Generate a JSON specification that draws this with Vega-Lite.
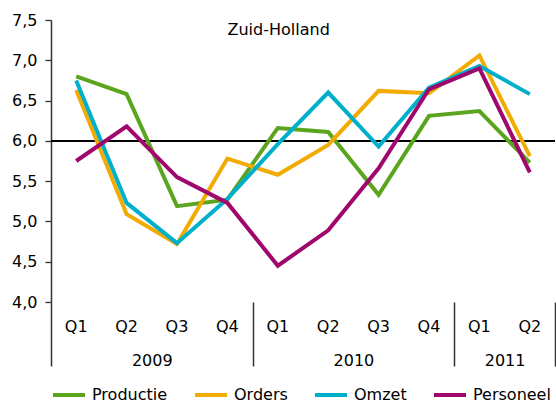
{
  "$schema": "https://vega.github.io/schema/vega-lite/v6.json",
  "width": 504,
  "height": 282,
  "autosize": {"type": "none"},
  "padding": {"left": 51, "top": 20, "right": 1, "bottom": 101},
  "background": "#ffffff",
  "config": {
    "view": {"stroke": null},
    "font": "DejaVu Sans",
    "axis": {"labelFont": "DejaVu Sans", "labelColor": "#000000", "labelFontSize": 16}
  },
  "title": {
    "text": "Zuid-Holland",
    "font": "DejaVu Sans",
    "fontSize": 16,
    "fontWeight": "normal",
    "color": "#000000",
    "anchor": "middle",
    "frame": "bounds",
    "offset": -26,
    "dx": -5
  },
  "data": {
    "values": [
      {"kwartaal": "2009 Q1", "reeks": "Productie", "waarde": 6.80},
      {"kwartaal": "2009 Q2", "reeks": "Productie", "waarde": 6.58},
      {"kwartaal": "2009 Q3", "reeks": "Productie", "waarde": 5.19},
      {"kwartaal": "2009 Q4", "reeks": "Productie", "waarde": 5.27},
      {"kwartaal": "2010 Q1", "reeks": "Productie", "waarde": 6.16},
      {"kwartaal": "2010 Q2", "reeks": "Productie", "waarde": 6.11},
      {"kwartaal": "2010 Q3", "reeks": "Productie", "waarde": 5.33},
      {"kwartaal": "2010 Q4", "reeks": "Productie", "waarde": 6.31},
      {"kwartaal": "2011 Q1", "reeks": "Productie", "waarde": 6.37},
      {"kwartaal": "2011 Q2", "reeks": "Productie", "waarde": 5.73},
      {"kwartaal": "2009 Q1", "reeks": "Orders", "waarde": 6.63},
      {"kwartaal": "2009 Q2", "reeks": "Orders", "waarde": 5.09},
      {"kwartaal": "2009 Q3", "reeks": "Orders", "waarde": 4.72},
      {"kwartaal": "2009 Q4", "reeks": "Orders", "waarde": 5.78},
      {"kwartaal": "2010 Q1", "reeks": "Orders", "waarde": 5.58},
      {"kwartaal": "2010 Q2", "reeks": "Orders", "waarde": 5.95},
      {"kwartaal": "2010 Q3", "reeks": "Orders", "waarde": 6.62},
      {"kwartaal": "2010 Q4", "reeks": "Orders", "waarde": 6.59},
      {"kwartaal": "2011 Q1", "reeks": "Orders", "waarde": 7.06},
      {"kwartaal": "2011 Q2", "reeks": "Orders", "waarde": 5.81},
      {"kwartaal": "2009 Q1", "reeks": "Omzet", "waarde": 6.75},
      {"kwartaal": "2009 Q2", "reeks": "Omzet", "waarde": 5.23},
      {"kwartaal": "2009 Q3", "reeks": "Omzet", "waarde": 4.73},
      {"kwartaal": "2009 Q4", "reeks": "Omzet", "waarde": 5.28},
      {"kwartaal": "2010 Q1", "reeks": "Omzet", "waarde": 5.96},
      {"kwartaal": "2010 Q2", "reeks": "Omzet", "waarde": 6.60},
      {"kwartaal": "2010 Q3", "reeks": "Omzet", "waarde": 5.93},
      {"kwartaal": "2010 Q4", "reeks": "Omzet", "waarde": 6.66},
      {"kwartaal": "2011 Q1", "reeks": "Omzet", "waarde": 6.93},
      {"kwartaal": "2011 Q2", "reeks": "Omzet", "waarde": 6.58},
      {"kwartaal": "2009 Q1", "reeks": "Personeel", "waarde": 5.75},
      {"kwartaal": "2009 Q2", "reeks": "Personeel", "waarde": 6.18},
      {"kwartaal": "2009 Q3", "reeks": "Personeel", "waarde": 5.55},
      {"kwartaal": "2009 Q4", "reeks": "Personeel", "waarde": 5.23},
      {"kwartaal": "2010 Q1", "reeks": "Personeel", "waarde": 4.45},
      {"kwartaal": "2010 Q2", "reeks": "Personeel", "waarde": 4.89},
      {"kwartaal": "2010 Q3", "reeks": "Personeel", "waarde": 5.66},
      {"kwartaal": "2010 Q4", "reeks": "Personeel", "waarde": 6.64},
      {"kwartaal": "2011 Q1", "reeks": "Personeel", "waarde": 6.90},
      {"kwartaal": "2011 Q2", "reeks": "Personeel", "waarde": 5.61}
    ]
  },
  "layer": [
    {
      "mark": {"type": "rule", "color": "#000000", "strokeWidth": 1.3},
      "encoding": {
        "y": {"datum": 6, "type": "quantitative"}
      }
    },
    {
      "mark": {"type": "line", "strokeWidth": 4, "strokeJoin": "miter", "strokeCap": "butt"},
      "encoding": {
        "x": {
          "field": "kwartaal",
          "type": "ordinal",
          "scale": {"paddingInner": 0, "paddingOuter": 0},
          "axis": {
            "title": null,
            "orient": "bottom",
            "domain": false,
            "ticks": false,
            "labelAngle": 0,
            "labelPadding": 16,
            "labelExpr": "split(datum.value, ' ')[1]"
          }
        },
        "y": {
          "field": "waarde",
          "type": "quantitative",
          "scale": {"domain": [4, 7.5], "nice": false, "zero": false},
          "axis": {
            "title": null,
            "values": [4, 4.5, 5, 5.5, 6, 6.5, 7, 7.5],
            "labelExpr": "replace(format(datum.value, '.1f'), '.', ',')",
            "grid": false,
            "domainColor": "#333333",
            "domainWidth": 1.5,
            "tickColor": "#333333",
            "tickWidth": 1.3,
            "tickSize": 6,
            "labelPadding": 8
          }
        },
        "color": {
          "field": "reeks",
          "type": "nominal",
          "scale": {
            "domain": ["Productie", "Orders", "Omzet", "Personeel"],
            "range": ["#5ba51e", "#f2ab00", "#00b0cb", "#a0076c"]
          },
          "legend": {
            "title": null,
            "orient": "bottom",
            "direction": "horizontal",
            "symbolType": "stroke",
            "symbolSize": 1024,
            "symbolStrokeWidth": 4,
            "labelFontSize": 16,
            "labelFont": "DejaVu Sans",
            "labelColor": "#000000",
            "labelOffset": 5,
            "columnPadding": 19,
            "offset": 9
          }
        }
      }
    },
    {
      "mark": {"type": "point", "opacity": 0},
      "encoding": {
        "x": {
          "field": "kwartaal",
          "type": "ordinal",
          "axis": {
            "title": null,
            "orient": "bottom",
            "domain": false,
            "tickBand": "extent",
            "tickSize": 64,
            "tickWidth": 1.5,
            "tickColor": {
              "condition": {
                "test": "!isValid(datum.value) || datum.value == '2009 Q4' || datum.value == '2010 Q4' || datum.value == '2011 Q2'",
                "value": "#333333"
              },
              "value": "transparent"
            },
            "labelAngle": 0,
            "labelOffset": 25.2,
            "labelPadding": -14,
            "labelExpr": "datum.value == '2009 Q2' ? '2009' : datum.value == '2010 Q2' ? '2010' : datum.value == '2011 Q1' ? '2011' : ''"
          }
        }
      }
    }
  ],
  "resolve": {"axis": {"x": "independent"}}
}
